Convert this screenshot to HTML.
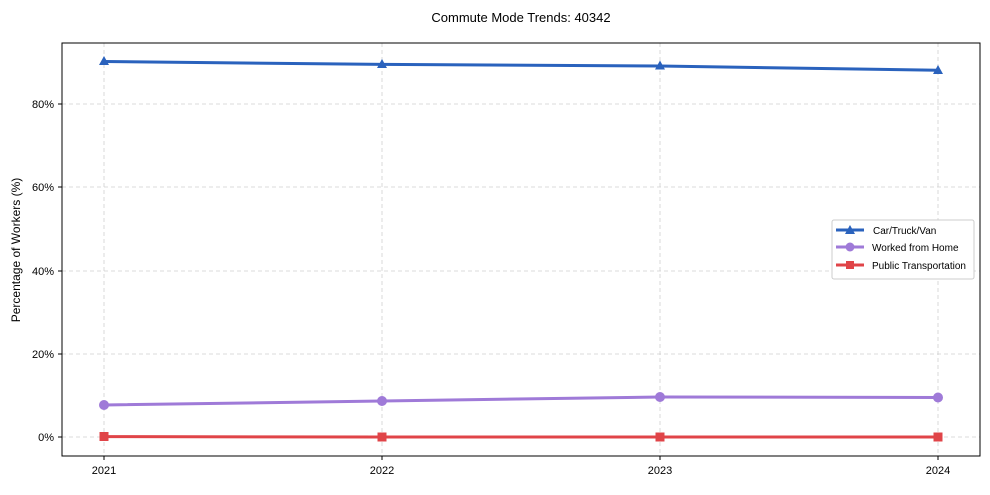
<!DOCTYPE html>
<html><head><meta charset="utf-8"><style>body{margin:0;background:#fff}</style></head><body>
<svg width="990" height="490" xmlns="http://www.w3.org/2000/svg" font-family="Liberation Sans, Arial, sans-serif">
<rect width="990" height="490" fill="#fff"/>
<text x="521" y="22" font-size="13" text-anchor="middle">Commute Mode Trends: 40342</text>
<g stroke="#d0d0d0" stroke-dasharray="4,3" stroke-width="0.8">
<line x1="104" y1="43" x2="104" y2="456"/><line x1="382" y1="43" x2="382" y2="456"/>
<line x1="660" y1="43" x2="660" y2="456"/><line x1="938" y1="43" x2="938" y2="456"/>
<line x1="62" y1="437" x2="980" y2="437"/><line x1="62" y1="354" x2="980" y2="354"/>
<line x1="62" y1="271" x2="980" y2="271"/><line x1="62" y1="187" x2="980" y2="187"/>
<line x1="62" y1="104" x2="980" y2="104"/>
</g>
<rect x="62" y="43" width="918" height="413" fill="none" stroke="#000" stroke-width="1"/>
<g font-size="11" text-anchor="end">
<text x="54" y="441">0%</text><text x="54" y="358">20%</text><text x="54" y="275">40%</text>
<text x="54" y="191">60%</text><text x="54" y="108">80%</text>
</g>
<g stroke="#000"><line x1="58" y1="437" x2="62" y2="437"/><line x1="58" y1="354" x2="62" y2="354"/><line x1="58" y1="271" x2="62" y2="271"/><line x1="58" y1="187" x2="62" y2="187"/><line x1="58" y1="104" x2="62" y2="104"/>
<line x1="104" y1="456" x2="104" y2="460"/><line x1="382" y1="456" x2="382" y2="460"/><line x1="660" y1="456" x2="660" y2="460"/><line x1="938" y1="456" x2="938" y2="460"/></g>
<g font-size="11" text-anchor="middle">
<text x="104" y="474">2021</text><text x="382" y="474">2022</text><text x="660" y="474">2023</text><text x="938" y="474">2024</text>
</g>
<text transform="translate(20,250) rotate(-90)" font-size="12" text-anchor="middle">Percentage of Workers (%)</text>
<polyline points="104,61.5 382,64.4 660,66 938,70.3" fill="none" stroke="#2a62bd" stroke-width="3"/>
<g fill="#2a62bd"><path d="M104,56 l5,9 h-10z"/><path d="M382,59 l5,9 h-10z"/><path d="M660,60.5 l5,9 h-10z"/><path d="M938,65 l5,9 h-10z"/></g>
<polyline points="104,405 382,401 660,397 938,397.5" fill="none" stroke="#9f7ad8" stroke-width="3"/>
<g fill="#9f7ad8"><circle cx="104" cy="405" r="5"/><circle cx="382" cy="401" r="5"/><circle cx="660" cy="397" r="5"/><circle cx="938" cy="397.5" r="5"/></g>
<polyline points="104,436.6 382,437 660,437 938,437" fill="none" stroke="#e04448" stroke-width="3"/>
<g fill="#e04448"><rect x="99.5" y="432" width="9" height="9"/><rect x="377.5" y="432.5" width="9" height="9"/><rect x="655.5" y="432.5" width="9" height="9"/><rect x="933.5" y="432.5" width="9" height="9"/></g>
<rect x="832" y="220" width="142" height="59" rx="2" fill="#fff" stroke="#ccc"/>
<line x1="836" y1="230" x2="864" y2="230" stroke="#2a62bd" stroke-width="3"/><path d="M850,225 l5,9 h-10z" fill="#2a62bd"/>
<line x1="836" y1="247" x2="864" y2="247" stroke="#9f7ad8" stroke-width="3"/><circle cx="850" cy="247" r="4.5" fill="#9f7ad8"/>
<line x1="836" y1="265" x2="864" y2="265" stroke="#e04448" stroke-width="3"/><rect x="846" y="261" width="8" height="8" fill="#e04448"/>
<g font-size="10"><text x="873" y="234">Car/Truck/Van</text><text x="872" y="251">Worked from Home</text><text x="872" y="269">Public Transportation</text></g>
</svg>
</body></html>
